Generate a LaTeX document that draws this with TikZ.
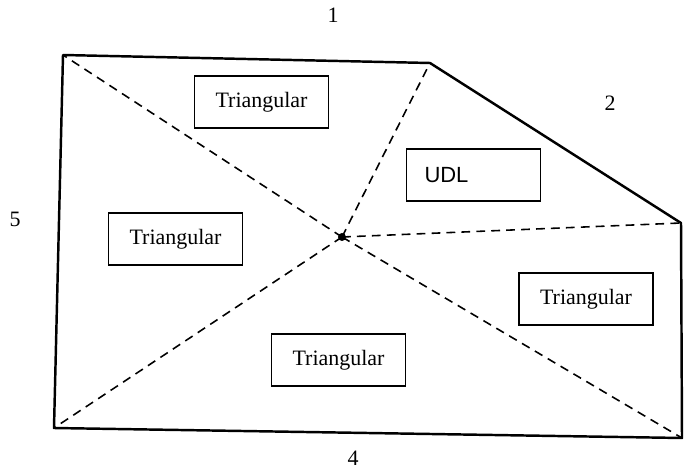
\documentclass[tikz,border=0pt]{standalone}
\usepackage{fontspec}
\setmainfont{Liberation Serif}
\newfontfamily\udlfont{Liberation Sans}
\usetikzlibrary{positioning}

\begin{document}
\begin{tikzpicture}[
    loadbox/.style={draw, line width=1.1pt, minimum width=2.68cm,
      minimum height=1.04cm, font=\fontsize{12.5}{14}\selectfont},
    edge/.style={line width=1.4pt, line join=round},
    spoke/.style={line width=0.9pt, dash pattern=on 5pt off 3.5pt},
    sidelabel/.style={font=\fontsize{12.5}{14}\selectfont}]
  \useasboundingbox (0,0) rectangle (13.74,9.38);

  % corners of the slab and the centre point
  \coordinate (c1) at (1.26,8.28);
  \coordinate (c2) at (8.60,8.12);
  \coordinate (c3) at (13.62,4.92);
  \coordinate (c4) at (13.64,0.62);
  \coordinate (c5) at (1.08,0.82);
  \coordinate (ctr) at (6.84,4.64);

  \draw[edge] (c1) -- (c2) -- (c3) -- (c4) -- (c5) -- cycle;
  \foreach \c in {c1,c2,c3,c4,c5}
    \draw[spoke] (ctr) -- (\c);
  \fill (ctr) circle (0.08);

  % load type of each panel
  \node[loadbox] (top) at (5.23,7.34) {Triangular};
  \node[loadbox] (left) at (3.51,4.60) {Triangular};
  \node[loadbox, text width=1.96cm, align=left, inner xsep=0.36cm,
    font=\fontsize{12.5}{14}\udlfont] (udl) at (9.47,5.88) {UDL};
  \node[loadbox] (bottom) at (6.77,2.18) {Triangular};
  \node[loadbox] (right) at (11.72,3.40) {Triangular};

  % edge numbers
  \node[sidelabel] (e1) at (6.66,9.07) {1};
  \node[sidelabel] (e2) at (12.20,7.32) {2};
  \node[sidelabel] (e4) at (7.06,0.22) {4};
  \node[sidelabel] (e5) at (0.30,5.00) {5};
\end{tikzpicture}
\end{document}
